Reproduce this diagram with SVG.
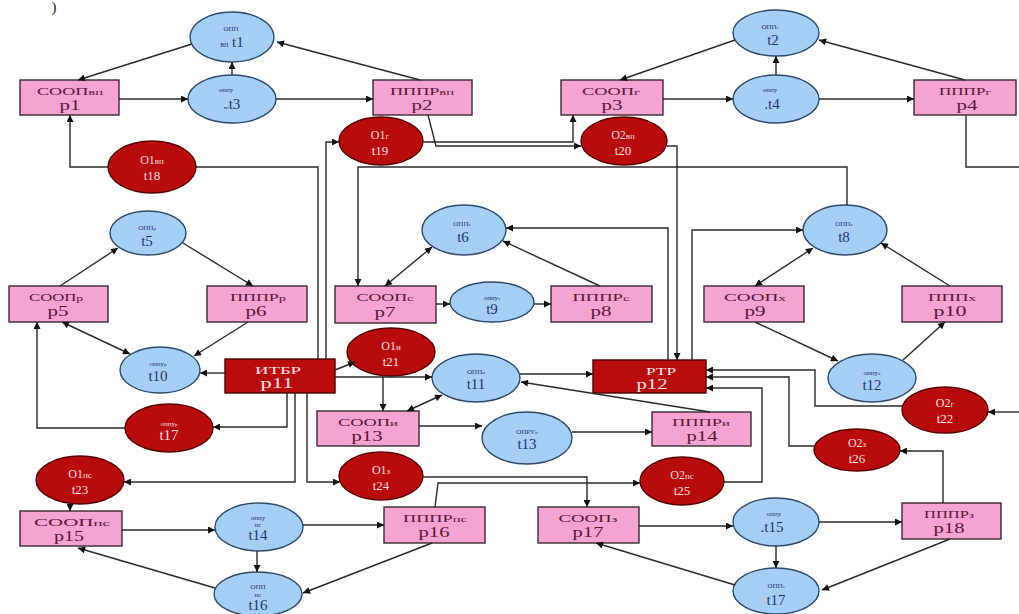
<svg xmlns="http://www.w3.org/2000/svg" width="1019" height="614" viewBox="0 0 1019 614">
  <style>
    .pl rect { fill: #f5a3d1; stroke: #3a2a30; stroke-width: 1.4; }
    .pr rect { fill: #b90d0d; stroke: #4a0000; stroke-width: 1.4; }
    .tb ellipse { fill: #a5cff5; stroke: #2e4a6a; stroke-width: 1.4; }
    .tr ellipse { fill: #b80c0c; stroke: #5a0000; stroke-width: 1.4; }
    text { text-anchor: middle; }
    .nm { font-family: "Liberation Serif", serif; font-size: 10px; fill: #5a1838; }
    .id { font-family: "Liberation Serif", serif; font-size: 15px; fill: #5a1838; }
    .pr .nm, .pr .id { fill: #f8e4e4; }
    .sm { font-family: "Liberation Serif", serif; font-size: 7px; fill: #1d3577; }
    .tid { font-family: "Liberation Serif", serif; font-size: 15px; fill: #1d3577; }
    .tr .sm, .tr .tid { fill: #f6dede; }
    .rn { font-family: "Liberation Serif", serif; font-size: 12px; fill: #f6dede; }
    .ri { font-family: "Liberation Serif", serif; font-size: 13px; fill: #f6dede; }
    #connectors path { fill: none; stroke: #2a2a2a; stroke-width: 1.4; }
    .a { marker-end: url(#ah); }
    .b { marker-start: url(#ah); marker-end: url(#ah); }
  </style>
  <defs>
    <marker id="ah" viewBox="0 0 10 10" refX="10" refY="5" markerWidth="9" markerHeight="7" markerUnits="userSpaceOnUse" orient="auto-start-reverse">
      <path d="M0,0 L10,5 L0,10 z" fill="#111"/>
    </marker>
  </defs>

  <rect width="1019" height="614" fill="#ffffff"/>
  <text x="54" y="12" font-family="Liberation Serif, serif" font-size="15" fill="#222">)</text>

  <!-- places -->
  <g id="p1" class="pl"><rect x="20" y="80" width="99" height="35"/><text class="nm" x="70" y="95" textLength="66" lengthAdjust="spacingAndGlyphs">СООП<tspan font-size="8">вп</tspan></text><text class="id" x="70" y="110" textLength="21" lengthAdjust="spacingAndGlyphs">p1</text></g>
  <g id="p2" class="pl"><rect x="373" y="80" width="99" height="35"/><text class="nm" x="422" y="95" textLength="64" lengthAdjust="spacingAndGlyphs">ПППР<tspan font-size="8">вп</tspan></text><text class="id" x="422" y="110" textLength="21" lengthAdjust="spacingAndGlyphs">p2</text></g>
  <g id="p3" class="pl"><rect x="561" y="80" width="102" height="35"/><text class="nm" x="611" y="95" textLength="58" lengthAdjust="spacingAndGlyphs">СООП<tspan font-size="8">г</tspan></text><text class="id" x="612" y="110" textLength="21" lengthAdjust="spacingAndGlyphs">p3</text></g>
  <g id="p4" class="pl"><rect x="914" y="80" width="102" height="35"/><text class="nm" x="965" y="95" textLength="52" lengthAdjust="spacingAndGlyphs">ПППР<tspan font-size="8">г</tspan></text><text class="id" x="967" y="110" textLength="21" lengthAdjust="spacingAndGlyphs">p4</text></g>
  <g id="p5" class="pl"><rect x="9" y="286" width="99" height="36"/><text class="nm" x="56" y="301" textLength="54" lengthAdjust="spacingAndGlyphs">СООП<tspan font-size="8">р</tspan></text><text class="id" x="58" y="316" textLength="21" lengthAdjust="spacingAndGlyphs">p5</text></g>
  <g id="p6" class="pl"><rect x="207" y="286" width="100" height="36"/><text class="nm" x="258" y="301" textLength="56" lengthAdjust="spacingAndGlyphs">ПППР<tspan font-size="8">р</tspan></text><text class="id" x="256" y="316" textLength="21" lengthAdjust="spacingAndGlyphs">p6</text></g>
  <g id="p7" class="pl"><rect x="335" y="286" width="101" height="37"/><text class="nm" x="385" y="301" textLength="57" lengthAdjust="spacingAndGlyphs">СООП<tspan font-size="8">с</tspan></text><text class="id" x="385" y="317" textLength="21" lengthAdjust="spacingAndGlyphs">p7</text></g>
  <g id="p8" class="pl"><rect x="551" y="286" width="101" height="36"/><text class="nm" x="601" y="301" textLength="57" lengthAdjust="spacingAndGlyphs">ПППР<tspan font-size="8">с</tspan></text><text class="id" x="601" y="316" textLength="21" lengthAdjust="spacingAndGlyphs">p8</text></g>
  <g id="p9" class="pl"><rect x="704" y="286" width="100" height="36"/><text class="nm" x="755" y="301" textLength="62" lengthAdjust="spacingAndGlyphs">СООП<tspan font-size="8">х</tspan></text><text class="id" x="755" y="316" textLength="21" lengthAdjust="spacingAndGlyphs">p9</text></g>
  <g id="p10" class="pl"><rect x="902" y="286" width="100" height="36"/><text class="nm" x="952" y="301" textLength="48" lengthAdjust="spacingAndGlyphs">ППП<tspan font-size="8">х</tspan></text><text class="id" x="950" y="316" textLength="33" lengthAdjust="spacingAndGlyphs">p10</text></g>
  <g id="p11" class="pr"><rect x="225" y="359" width="110" height="34"/><text class="nm" x="278" y="374" textLength="46" lengthAdjust="spacingAndGlyphs">ИТБР</text><text class="id" x="277" y="388" textLength="33" lengthAdjust="spacingAndGlyphs">p11</text></g>
  <g id="p12" class="pr"><rect x="593" y="360" width="113" height="33"/><text class="nm" x="661" y="375" textLength="30" lengthAdjust="spacingAndGlyphs">РТР</text><text class="id" x="652" y="389" textLength="31" lengthAdjust="spacingAndGlyphs">p12</text></g>
  <g id="p13" class="pl"><rect x="317" y="411" width="102" height="35"/><text class="nm" x="368" y="426" textLength="60" lengthAdjust="spacingAndGlyphs">СООП<tspan font-size="8">и</tspan></text><text class="id" x="367" y="441" textLength="31" lengthAdjust="spacingAndGlyphs">p13</text></g>
  <g id="p14" class="pl"><rect x="652" y="412" width="99" height="34"/><text class="nm" x="701" y="426" textLength="58" lengthAdjust="spacingAndGlyphs">ПППР<tspan font-size="8">и</tspan></text><text class="id" x="702" y="441" textLength="31" lengthAdjust="spacingAndGlyphs">p14</text></g>
  <g id="p15" class="pl"><rect x="20" y="511" width="102" height="35"/><text class="nm" x="72" y="526" textLength="76" lengthAdjust="spacingAndGlyphs">СООП<tspan font-size="8">пс</tspan></text><text class="id" x="69" y="541" textLength="30" lengthAdjust="spacingAndGlyphs">p15</text></g>
  <g id="p16" class="pl"><rect x="384" y="507" width="101" height="36"/><text class="nm" x="435" y="522" textLength="64" lengthAdjust="spacingAndGlyphs">ПППР<tspan font-size="8">пс</tspan></text><text class="id" x="434" y="537" textLength="31" lengthAdjust="spacingAndGlyphs">p16</text></g>
  <g id="p17" class="pl"><rect x="538" y="507" width="101" height="36"/><text class="nm" x="588" y="522" textLength="59" lengthAdjust="spacingAndGlyphs">СООП<tspan font-size="8">з</tspan></text><text class="id" x="588" y="537" textLength="31" lengthAdjust="spacingAndGlyphs">p17</text></g>
  <g id="p18" class="pl"><rect x="902" y="503" width="99" height="36"/><text class="nm" x="949" y="518" textLength="50" lengthAdjust="spacingAndGlyphs">ПППР<tspan font-size="8">з</tspan></text><text class="id" x="949" y="533" textLength="31" lengthAdjust="spacingAndGlyphs">p18</text></g>

  <!-- blue transitions -->
  <g id="t1" class="tb"><ellipse cx="232" cy="37" rx="42" ry="25"/><text class="sm" x="231" y="31">ОПП</text><text class="tid" x="232" y="47"><tspan font-size="8">вп</tspan> t1</text></g>
  <g id="t2" class="tb"><ellipse cx="776" cy="33" rx="43" ry="23"/><text class="sm" x="770" y="29">ОПП<tspan font-size="5">г</tspan></text><text class="tid" x="773" y="45">t2</text></g>
  <g id="t3" class="tb"><ellipse cx="232" cy="99" rx="44" ry="24"/><text class="sm" x="226" y="92">оппу</text><text class="tid" x="232" y="109"><tspan font-size="5">вп</tspan>t3</text></g>
  <g id="t4" class="tb"><ellipse cx="776" cy="99" rx="43" ry="24"/><text class="sm" x="770" y="92">оппу</text><text class="tid" x="772" y="109">.t4</text></g>
  <g id="t5" class="tb"><ellipse cx="148" cy="233" rx="38" ry="22"/><text class="sm" x="147" y="230">ОПП<tspan font-size="5">р</tspan></text><text class="tid" x="147" y="246">t5</text></g>
  <g id="t6" class="tb"><ellipse cx="464" cy="230" rx="42" ry="25"/><text class="sm" x="462" y="226">ОПП<tspan font-size="5">с</tspan></text><text class="tid" x="463" y="242">t6</text></g>
  <g id="t8" class="tb"><ellipse cx="845" cy="230" rx="42" ry="25"/><text class="sm" x="844" y="226">ОПП<tspan font-size="5">х</tspan></text><text class="tid" x="844" y="242">t8</text></g>
  <g id="t9" class="tb"><ellipse cx="492" cy="302" rx="42" ry="20"/><text class="sm" x="492" y="300">оппу<tspan font-size="5">с</tspan></text><text class="tid" x="492" y="314">t9</text></g>
  <g id="t10" class="tb"><ellipse cx="160" cy="370" rx="40" ry="23"/><text class="sm" x="158" y="366">оппу<tspan font-size="5">р</tspan></text><text class="tid" x="158" y="381">t10</text></g>
  <g id="t11" class="tb"><ellipse cx="476" cy="378" rx="44" ry="24"/><text class="sm" x="476" y="374">ОПП<tspan font-size="5">и</tspan></text><text class="tid" x="476" y="389">t11</text></g>
  <g id="t12" class="tb"><ellipse cx="872" cy="378" rx="44" ry="24"/><text class="sm" x="872" y="375">оппу<tspan font-size="5">х</tspan></text><text class="tid" x="872" y="390">t12</text></g>
  <g id="t13" class="tb"><ellipse cx="527" cy="438" rx="45" ry="26"/><text class="sm" x="527" y="434">ОПРУ<tspan font-size="5">и</tspan></text><text class="tid" x="527" y="449">t13</text></g>
  <g id="t14" class="tb"><ellipse cx="259" cy="527" rx="44" ry="24"/><text class="sm" x="258" y="520">оппу</text><text class="sm" x="258" y="527" font-size="5">пс</text><text class="tid" x="258" y="540">t14</text></g>
  <g id="t15" class="tb"><ellipse cx="776" cy="522" rx="43" ry="24"/><text class="sm" x="774" y="516">оппу</text><text class="tid" x="772" y="532">.t15</text></g>
  <g id="t16" class="tb"><ellipse cx="258" cy="594" rx="44" ry="22"/><text class="sm" x="258" y="589">ОПП</text><text class="sm" x="258" y="597" font-size="5">пс</text><text class="tid" x="258" y="610">t16</text></g>
  <g id="t17" class="tb"><ellipse cx="776" cy="591" rx="43" ry="23"/><text class="sm" x="776" y="588">ОПП<tspan font-size="5">з</tspan></text><text class="tid" x="776" y="605">t17</text></g>

  <!-- red transitions -->
  <g id="t17r" class="tr"><ellipse cx="169" cy="428" rx="44" ry="24"/><text class="sm" x="169" y="426">оппу<tspan font-size="5">р</tspan></text><text class="tid" x="169" y="440">t17</text></g>
  <g id="t18" class="tr"><ellipse cx="152" cy="167" rx="44" ry="26"/><text class="rn" x="152" y="164">O1<tspan font-size="9">вп</tspan></text><text class="ri" x="152" y="180">t18</text></g>
  <g id="t19" class="tr"><ellipse cx="381" cy="141" rx="42" ry="24"/><text class="rn" x="380" y="139">O1<tspan font-size="9">г</tspan></text><text class="ri" x="380" y="155">t19</text></g>
  <g id="t20" class="tr"><ellipse cx="624" cy="141" rx="43" ry="24"/><text class="rn" x="623" y="139">O2<tspan font-size="9">вп</tspan></text><text class="ri" x="623" y="155">t20</text></g>
  <g id="t21" class="tr"><ellipse cx="391" cy="352" rx="44" ry="24"/><text class="rn" x="391" y="350">O1<tspan font-size="9">и</tspan></text><text class="ri" x="391" y="366">t21</text></g>
  <g id="t22" class="tr"><ellipse cx="945" cy="410" rx="43" ry="23"/><text class="rn" x="945" y="407">O2<tspan font-size="9">г</tspan></text><text class="ri" x="945" y="423">t22</text></g>
  <g id="t23" class="tr"><ellipse cx="80" cy="480" rx="44" ry="24"/><text class="rn" x="80" y="478">O1<tspan font-size="9">пс</tspan></text><text class="ri" x="80" y="494">t23</text></g>
  <g id="t24" class="tr"><ellipse cx="381" cy="476" rx="42" ry="24"/><text class="rn" x="381" y="474">O1<tspan font-size="9">з</tspan></text><text class="ri" x="381" y="490">t24</text></g>
  <g id="t25" class="tr"><ellipse cx="682" cy="481" rx="42" ry="24"/><text class="rn" x="682" y="479">O2<tspan font-size="9">пс</tspan></text><text class="ri" x="682" y="495">t25</text></g>
  <g id="t26" class="tr"><ellipse cx="857" cy="450" rx="43" ry="21"/><text class="rn" x="857" y="447">O2<tspan font-size="9">з</tspan></text><text class="ri" x="857" y="463">t26</text></g>

  <!-- connectors -->
  <g id="connectors">
    <path class="a" d="M192,44 L78,80"/>
    <path class="a" d="M232,75 L232,62"/>
    <path class="a" d="M119,99 L188,99"/>
    <path class="a" d="M276,99 L373,99"/>
    <path class="a" d="M420,80 L277,42"/>
    <path class="a" d="M108,167 L70,167 L70,115"/>
    <path d="M318,359 L318,167 L196,167"/>
    <path class="a" d="M326,359 L326,142 L339,142"/>
    <path class="a" d="M423,142 L573,142 L573,115"/>
    <path class="a" d="M428,115 L436,146 L581,146"/>
    <path class="a" d="M667,146 L677,146 L677,360"/>
    <path class="a" d="M735,40 L620,80"/>
    <path class="a" d="M776,75 L776,56"/>
    <path class="a" d="M663,99 L733,99"/>
    <path class="a" d="M819,99 L914,99"/>
    <path class="a" d="M965,80 L819,40"/>
    <path d="M966,115 L966,167 L1019,167"/>
    <path class="a" d="M847,205 L847,167 L358,167 L358,286"/>
    <path class="a" d="M60,286 L118,248"/>
    <path class="a" d="M183,243 L253,286"/>
    <path class="b" d="M62,322 L130,354"/>
    <path class="a" d="M248,322 L194,356"/>
    <path class="a" d="M225,373 L200,373"/>
    <path class="a" d="M125,428 L37,428 L37,322"/>
    <path class="b" d="M432,247 L385,286"/>
    <path class="a" d="M600,286 L503,241"/>
    <path class="a" d="M436,304 L450,304"/>
    <path class="a" d="M534,304 L551,304"/>
    <path class="a" d="M668,360 L668,228 L506,228"/>
    <path class="a" d="M692,360 L692,230 L803,230"/>
    <path class="b" d="M813,248 L755,286"/>
    <path class="a" d="M950,286 L881,243"/>
    <path class="a" d="M755,322 L838,361"/>
    <path class="a" d="M903,360 L945,322"/>
    <path class="a" d="M902,406 L815,406 L815,370 L706,370"/>
    <path class="a" d="M814,446 L789,446 L789,377 L706,377"/>
    <path class="a" d="M724,482 L762,482 L762,388 L706,388"/>
    <path class="a" d="M1019,412 L988,412"/>
    <path class="a" d="M943,503 L943,451 L900,451"/>
    <path class="a" d="M335,370 L355,362"/>
    <path class="a" d="M335,377 L432,377"/>
    <path class="a" d="M383,376 L383,411"/>
    <path class="b" d="M407,411 L442,395"/>
    <path class="a" d="M520,374 L593,374"/>
    <path class="a" d="M710,412 L521,382"/>
    <path class="a" d="M419,426 L482,426"/>
    <path class="a" d="M572,432 L652,432"/>
    <path class="a" d="M287,393 L287,427 L213,427"/>
    <path class="a" d="M295,393 L295,482 L124,482"/>
    <path class="a" d="M307,393 L307,482 L340,482"/>
    <path class="a" d="M70,504 L70,511"/>
    <path class="a" d="M122,530 L215,530"/>
    <path class="a" d="M257,551 L257,572"/>
    <path class="a" d="M215,588 L78,548"/>
    <path class="a" d="M432,543 L303,593"/>
    <path class="a" d="M303,525 L384,525"/>
    <path class="a" d="M423,477 L587,477 L587,507"/>
    <path class="a" d="M435,507 L438,483 L640,483"/>
    <path class="a" d="M639,526 L733,526"/>
    <path class="a" d="M819,522 L902,522"/>
    <path class="a" d="M776,546 L776,568"/>
    <path class="a" d="M950,539 L822,590"/>
    <path class="a" d="M735,585 L596,543"/>
  </g>
</svg>
